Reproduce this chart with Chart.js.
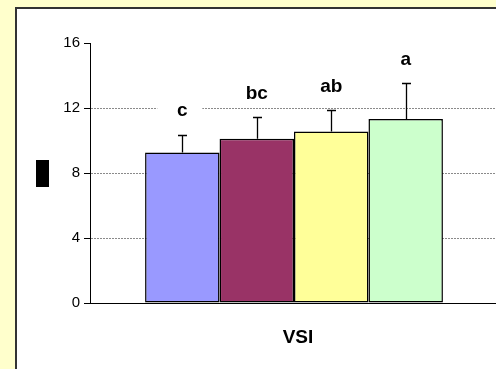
<!DOCTYPE html>
<html>
<head>
<meta charset="utf-8">
<script src="https://cdn.jsdelivr.net/npm/chart.js@4/dist/chart.umd.min.js"></script>
<style>
  html, body { margin:0; padding:0; background:#FFFFCC; overflow:hidden; width:496px; height:369px; }
  #panel { position:absolute; left:15px; top:7px; width:600px; height:500px; background:#fff;
           border-left:2px solid #333; border-top:2px solid #333; }
  #wrap { position:absolute; left:0; top:0; width:510px; height:369px; }
</style>
</head>
<body>
<div id="panel"></div>
<div id="wrap"><canvas id="c" width="510" height="369"></canvas></div>
<script>
const categories = ['VSI'];
const seriesNames = ['T1', 'T2', 'T3', 'T4'];
const seriesValues = [9.26, 10.11, 10.56, 11.32];
const seriesErrors = [1.08, 1.31, 1.29, 2.20];
const seriesLetters = ['c', 'bc', 'ab', 'a'];
const seriesColors = ['#9999FF', '#993366', '#FFFF99', '#CCFFCC'];
const yTicks = [0, 4, 8, 12, 16];

const datasets = seriesNames.map((n, i) => ({
  label: n,
  data: [seriesValues[i]],
  backgroundColor: seriesColors[i],
  borderColor: '#000',
  borderWidth: 1.5,
  borderSkipped: false,
  barPercentage: 1.0,
  categoryPercentage: 0.73
}));

const extras = {
  id: 'extras',
  afterDatasetsDraw(chart) {
    const ctx = chart.ctx;
    const y = chart.scales.y;
    ctx.save();
    chart.data.datasets.forEach((ds, i) => {
      const meta = chart.getDatasetMeta(i);
      meta.data.forEach((bar) => {
        const top = y.getPixelForValue(seriesValues[i]);
        const cap = y.getPixelForValue(seriesValues[i] + seriesErrors[i]);
        ctx.strokeStyle = '#000';
        ctx.lineWidth = 1.3;
        ctx.beginPath();
        ctx.moveTo(Math.round(bar.x) + 0.5, top);
        ctx.lineTo(Math.round(bar.x) + 0.5, cap);
        ctx.moveTo(Math.round(bar.x) - 4, Math.round(cap) + 0.5);
        ctx.lineTo(Math.round(bar.x) + 5, Math.round(cap) + 0.5);
        ctx.stroke();
        // letter
        const ly = cap - 24;
        ctx.fillStyle = '#fff';
        ctx.fillRect(bar.x - 25, ly - 10, 45, 20);
        ctx.fillStyle = '#000';
        ctx.font = 'bold 19px "Liberation Sans", Arial, sans-serif';
        ctx.textAlign = 'center';
        ctx.textBaseline = 'middle';
        ctx.fillText(seriesLetters[i], bar.x, ly);
      });
    });
    // axis title placeholder block
    ctx.fillStyle = '#000';
    const mid = y.getPixelForValue(8);
    ctx.fillRect(36, Math.round(mid) - 13, 13, 27);
    ctx.restore();
  }
};

new Chart(document.getElementById('c'), {
  type: 'bar',
  data: { labels: categories, datasets },
  options: {
    responsive: false,
    animation: false,
    devicePixelRatio: 1,
    layout: { padding: { top: 43, right: 12, left: 0, bottom: 0 } },
    plugins: { legend: { display: false }, tooltip: { enabled: false } },
    scales: {
      x: {
        grid: { display: false, drawTicks: false },
        border: { display: true, color: '#000', width: 1 },
        ticks: { color: '#000', padding: 23, labelOffset: 4, font: { family: '"Liberation Sans", Arial, sans-serif', size: 19, weight: 'bold' } },
        afterFit(s) { s.height = 66; }
      },
      y: {
        min: 0, max: 16,
        afterBuildTicks(s) { s.ticks = yTicks.map(v => ({ value: v })); },
        grid: {
          color: (c) => (c.tick && (c.tick.value === 0 || c.tick.value === 16)) ? 'rgba(0,0,0,0)' : '#8a8a8a',
          tickColor: '#000',
          tickLength: 6,
          tickBorderDash: [],
          lineWidth: 1
        },
        border: { display: true, color: '#000', width: 1, dash: [2, 1] },
        ticks: { color: '#000', padding: 4, font: { family: '"Liberation Sans", Arial, sans-serif', size: 15 } },
        afterFit(s) { s.width = 90; }
      }
    }
  },
  plugins: [extras]
});
</script>
</body>
</html>
